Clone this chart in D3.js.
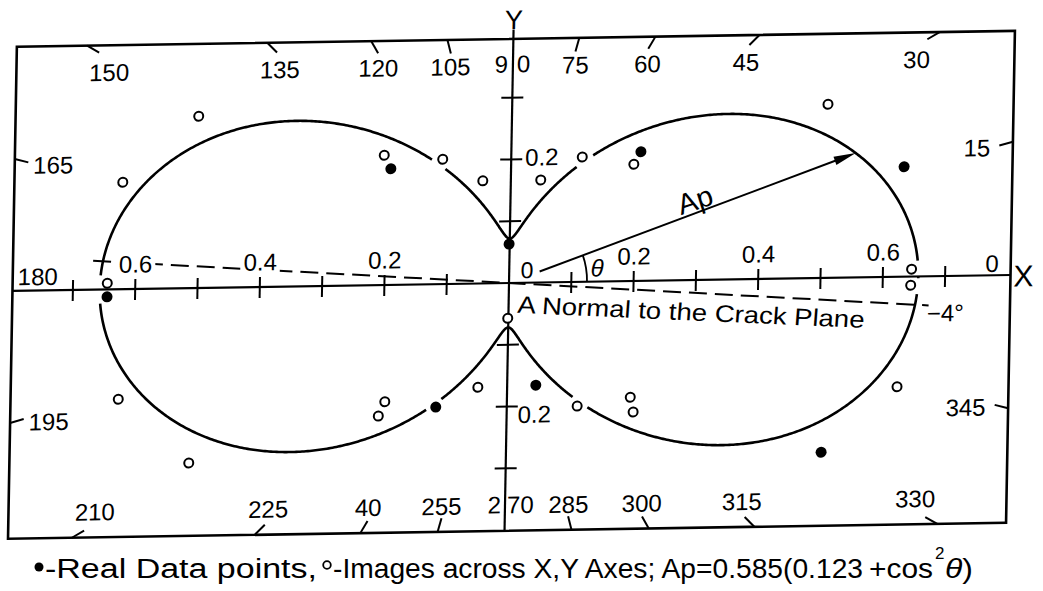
<!DOCTYPE html>
<html><head><meta charset="utf-8">
<script src="https://cdn.jsdelivr.net/npm/d3@7"></script>
<style>
body{margin:0;background:#fff}
svg{display:block}
text{font-family:"Liberation Sans",Arial,sans-serif;fill:#000}
</style>
</head><body>
<svg id="c" width="1043" height="591"></svg>
<script>
// ---------------- data ----------------
// real data points (filled), in Ap units, X = along crack normal axis
const realX = [-0.193, 0.208, 0.631, -0.001, -0.645, -0.114, 0.046, 0.506];
const realY = [0.188, 0.209, 0.178, 0.063, -0.012, -0.199, -0.166, -0.282];
// images across X,Y axes (open)
const imageX = [-0.503, -0.623, -0.204, -0.110, -0.045, 0.048, 0.114, 0.197, 0.507, 0.646, 0.645,
                -0.645, -0.624, -0.509, -0.001, -0.047, -0.196, -0.206, 0.113, 0.198, 0.203, 0.626];
const imageY = [0.278, 0.173, 0.210, 0.202, 0.166, 0.166, 0.202, 0.189, 0.281, 0.012, -0.014,
                0.010, -0.178, -0.283, -0.057, -0.168, -0.189, -0.212, -0.201, -0.188, -0.212, -0.178];
// fitted curve from the caption: Ap = 0.585 (0.123 + cos^2 θ)
const fitCoef = [0.585, 0.123];
// angle ticks on the frame and their labels
const angleTicks  = [0,15,30,45,60,75,90,105,120,135,150,165,180,195,210,225,240,255,270,285,300,315,330,345];
const angleLabels = ["0","15","30","45","60","75","90","105","120","135","150","165","180","195","210","225","40","255","270","285","300","315","330","345"];
// radial scale ticks
const xTickValues = [0.1,0.2,0.3,0.4,0.5,0.6,0.7];
const xTickLabels = ["0.2","0.4","0.6"];
const yTickValues = [0.1,0.2,0.3];
const yTickLabels = ["0.2"];
const normalAngle = -4;       // normal to crack plane (deg)
const normalExtent = [-0.67, 0.676];
const arrowAngle = 20;        // Ap arrow direction (deg)

// ---------------- layout ----------------
const svg = d3.select("#c");
const ox = 509, oy = 283;
const xs = d3.scaleLinear().domain([0, 1]).range([0, 623]);
const ys = d3.scaleLinear().domain([0, 1]).range([0, -618]);
const X0 = -0.797, X1 = 0.805, Y0 = -0.401, Y1 = 0.395;
const rad = d => d * Math.PI / 180;

const g = svg.append("g")
  .attr("transform", `translate(${ox},${oy}) matrix(1,-0.016,-0.018,1,0,0)`);

// frame
g.append("rect")
  .attr("x", xs(X0)).attr("y", ys(Y1))
  .attr("width", xs(X1) - xs(X0)).attr("height", ys(Y0) - ys(Y1))
  .attr("fill", "none").attr("stroke", "#000").attr("stroke-width", 2.6);

// points
const realPts = realX.map((x, i) => ({x, y: realY[i], filled: true}));
const imgPts = imageX.map((x, i) => ({x, y: imageY[i], filled: false}));
const allPts = realPts.concat(imgPts);

// curve with pen gaps around the markers
const Ap = t => fitCoef[0] * (fitCoef[1] + Math.cos(t) ** 2);
const gapPts = allPts.filter(p => Math.hypot(p.x, p.y) > 0.1)
  .map(p => ({px: xs(p.x), py: ys(p.y), r: p.filled ? 9 : 10}));
const samples = d3.range(0, 360.001, 0.25).map(d => {
  const t = rad(d), r = Ap(t);
  return {px: xs(r * Math.cos(t)), py: ys(r * Math.sin(t))};
});
const line = d3.line().x(d => d.px).y(d => d.py)
  .defined(d => !gapPts.some(p => Math.hypot(d.px - p.px, d.py - p.py) < p.r));
g.append("path").attr("d", line(samples))
  .attr("fill", "none").attr("stroke", "#000").attr("stroke-width", 2.6)
  .attr("stroke-linejoin", "round");

// dashed normal to crack plane
const na = rad(normalAngle);
g.append("line")
  .attr("x1", xs(normalExtent[0] * Math.cos(na))).attr("y1", ys(normalExtent[0] * Math.sin(na)))
  .attr("x2", xs(normalExtent[1] * Math.cos(na))).attr("y2", ys(normalExtent[1] * Math.sin(na)))
  .attr("stroke", "#000").attr("stroke-width", 2).attr("stroke-dasharray", "18,8");

// axes
g.append("line").attr("x1", xs(X0)).attr("x2", xs(X1)).attr("y1", 0).attr("y2", 0)
  .attr("stroke", "#000").attr("stroke-width", 2.2);
g.append("line").attr("x1", 0).attr("x2", 0).attr("y1", ys(Y0)).attr("y2", ys(0.41))
  .attr("stroke", "#000").attr("stroke-width", 2.2);

// x ticks
xTickValues.forEach(v => [v, -v].forEach(w => {
  g.append("line").attr("x1", xs(w)).attr("x2", xs(w)).attr("y1", -10).attr("y2", 11)
    .attr("stroke", "#000").attr("stroke-width", 2);
}));
// y ticks
yTickValues.forEach(v => [v, -v].forEach(w => {
  g.append("line").attr("x1", -11).attr("x2", 11).attr("y1", ys(w)).attr("y2", ys(w))
    .attr("stroke", "#000").attr("stroke-width", 2);
}));

function label(x, y, txt, size, anchor, extra) {
  const t = g.append("text").attr("x", x).attr("y", y).text(txt)
    .attr("font-size", size).attr("text-anchor", anchor || "middle")
    .attr("dominant-baseline", "central");
  if (extra) extra(t);
  return t;
}
// white box behind a label so the dashed line is interrupted
const boxed = t => {
  const b = t.node().getBBox();
  g.insert("rect", () => t.node())
    .attr("x", b.x - 3).attr("y", b.y + 2).attr("width", b.width + 6).attr("height", b.height - 4)
    .attr("fill", "#fff");
};

// x labels
xTickLabels.forEach(s => {
  const v = +s;
  label(xs(v), -25, s, 24, "middle", boxed);
  label(xs(-v), -25, s, 24, "middle", boxed);
});
// y labels
yTickLabels.forEach(s => {
  const v = +s;
  label(14, ys(v) - 2, s, 24, "start");
  label(11, ys(-v) + 8, s, 24, "start");
});
label(xs(0.0286), ys(0.0205), "0", 23, "middle");

// angle ticks around the frame
angleTicks.forEach((deg, i) => {
  const txt = angleLabels[i];
  const t = rad(deg), c = Math.cos(t), s = Math.sin(t);
  if (deg % 90 === 0) return;
  const tx = c > 0 ? X1 / c : X0 / c;
  const ty = s > 0 ? Y1 / s : Y0 / s;
  const tt = Math.min(tx, ty);
  const edge = tx < ty ? (c > 0 ? "right" : "left") : (s > 0 ? "top" : "bottom");
  const hx = xs(tt * c), hy = ys(tt * s);
  g.append("line").attr("x1", hx).attr("y1", hy).attr("x2", hx - c * 14).attr("y2", hy + s * 14)
    .attr("stroke", "#000").attr("stroke-width", 2);
  if (edge === "top") {
    const k = 13 / Math.abs(s);
    label(hx - c * k, ys(Y1) + 27, txt, 24, "middle");
  } else if (edge === "bottom") {
    const k = 13 / Math.abs(s);
    label(hx - c * k, ys(Y0) - 25.5, txt, 24, "middle");
  } else if (edge === "left") {
    label(hx - c * 14 + 5, hy + s * 14 + 3, txt, 24, "start");
  } else {
    label(hx - c * 14 - 9, hy + s * 14 + 2, txt, 24, "end");
  }
});
// special angle labels at the axes
label(xs(X1) - 12, -12, angleLabels[0], 24, "end");
label(xs(X0) + 5, -14, angleLabels[12], 24, "start");
label(-5, ys(Y1) + 25, angleLabels[6].slice(0, 1), 24, "end");
label(4, ys(Y1) + 25, angleLabels[6].slice(1), 24, "start");
label(-4, ys(Y0) - 26, angleLabels[18].slice(0, 1), 24, "end");
label(2, ys(Y0) - 26, angleLabels[18].slice(1), 24, "start");

// axis names
label(0.3, -263, "Y", 27, "middle");
label(xs(X1) + 3, 1, "X", 30, "start");

// Ap arrow
const aa = rad(arrowAngle), rTip = Ap(aa);
const sx = xs(0.052 * Math.cos(aa)), sy = ys(0.052 * Math.sin(aa));
const tx_ = xs(rTip * Math.cos(aa)), ty_ = ys(rTip * Math.sin(aa));
const L = Math.hypot(tx_ - sx, ty_ - sy), ux = (tx_ - sx) / L, uy = (ty_ - sy) / L;
g.append("line").attr("x1", sx).attr("y1", sy).attr("x2", tx_ - ux * 14).attr("y2", ty_ - uy * 14)
  .attr("stroke", "#000").attr("stroke-width", 2);
g.append("path")
  .attr("d", `M${tx_},${ty_}L${tx_ - ux * 22 - uy * 4.5},${ty_ - uy * 22 + ux * 4.5}L${tx_ - ux * 22 + uy * 4.5},${ty_ - uy * 22 - ux * 4.5}Z`)
  .attr("fill", "#000");
label(184.5, -80, "Ap", 29, "middle", t => t.attr("transform", "rotate(-18,184.5,-80)"));

// theta arc
const R = 78;
g.append("path")
  .attr("d", `M${R},0A${R},${R} 0 0 0 ${R * Math.cos(aa)},${-R * Math.sin(aa)}`)
  .attr("fill", "none").attr("stroke", "#000").attr("stroke-width", 1.8);
label(88, -13.6, "θ", 24, "middle", t => t.attr("font-style", "italic"));

// normal text
g.append("text").attr("x", 8.5).attr("y", 30).text("A Normal to the Crack Plane")
  .attr("font-size", 24).attr("textLength", 348).attr("lengthAdjust", "spacingAndGlyphs")
  .attr("transform", "rotate(3.4,8.5,30)");
label(418.5, 37, "−4°", 24, "start");

// markers
g.selectAll("circle.img").data(imgPts).join("circle").attr("class", "img")
  .attr("cx", d => xs(d.x)).attr("cy", d => ys(d.y)).attr("r", 4.5)
  .attr("fill", "#fff").attr("stroke", "#000").attr("stroke-width", 2);
g.selectAll("circle.real").data(realPts).join("circle").attr("class", "real")
  .attr("cx", d => xs(d.x)).attr("cy", d => ys(d.y)).attr("r", 5.5)
  .attr("fill", "#000");

// caption
const cap = svg.append("g");
cap.append("circle").attr("cx", 39).attr("cy", 567).attr("r", 4.5).attr("fill", "#000");
cap.append("text").attr("x", 45).attr("y", 578).attr("font-size", 27)
  .attr("textLength", 272).attr("lengthAdjust", "spacingAndGlyphs").text("-Real Data points,");
cap.append("circle").attr("cx", 327).attr("cy", 565).attr("r", 3.8)
  .attr("fill", "none").attr("stroke", "#000").attr("stroke-width", 1.8);
cap.append("text").attr("x", 333).attr("y", 578).attr("font-size", 27)
  .attr("textLength", 530).attr("lengthAdjust", "spacingAndGlyphs")
  .text("-Images across X,Y Axes; Ap=0.585(0.123");
cap.append("text").attr("x", 869).attr("y", 578).attr("font-size", 27)
  .attr("textLength", 64).attr("lengthAdjust", "spacingAndGlyphs").text("+cos");
cap.append("text").attr("x", 935).attr("y", 559).attr("font-size", 17).text("2");
const th = cap.append("text").attr("x", 945).attr("y", 578).attr("font-size", 27)
  .attr("textLength", 28).attr("lengthAdjust", "spacingAndGlyphs");
th.append("tspan").attr("font-style", "italic").text("θ");
th.append("tspan").text(")");
</script>
</body></html>
